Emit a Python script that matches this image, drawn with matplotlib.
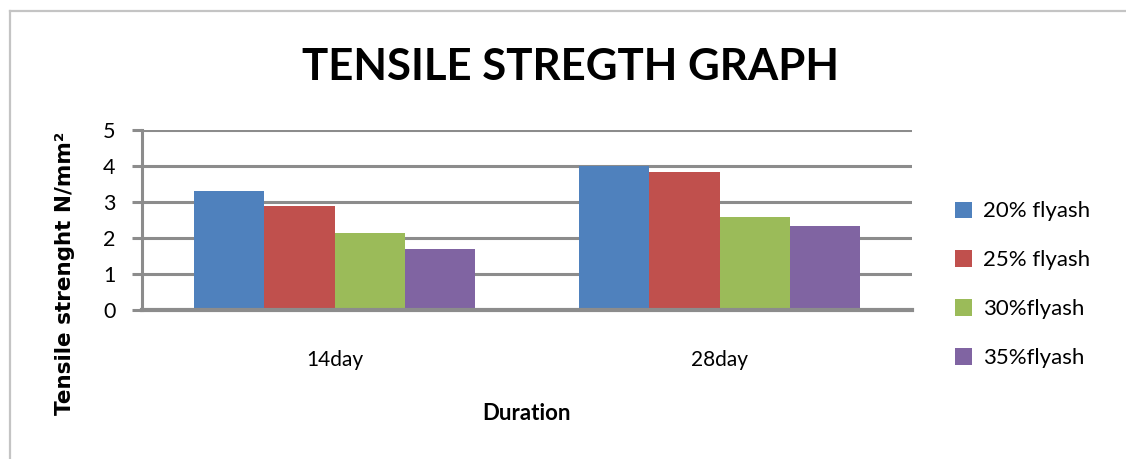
import matplotlib
matplotlib.use("Agg")
import matplotlib.pyplot as plt
import numpy as np
from matplotlib.lines import Line2D

durations = ["14day", "28day"]
series = ["20% flyash", "25% flyash", "30%flyash", "35%flyash"]
values_20 = [3.3, 4.0]
values_25 = [2.89, 3.82]
values_30 = [2.15, 2.57]
values_35 = [1.69, 2.33]
colors = ["#4F81BD", "#C0504D", "#9BBB59", "#8064A2"]
yticks = [0, 1, 2, 3, 4, 5]

grid_gray = "#8c8c8c"
font = "Lato"

fig = plt.figure(figsize=(11.26, 4.59), dpi=100)
# chart border: top and left edges only
fig.add_artist(Line2D([0.0085, 1.0], [0.977, 0.977], transform=fig.transFigure,
                      color="#c4c4c4", linewidth=1.6))
fig.add_artist(Line2D([0.0085, 0.0085], [0.0, 0.977], transform=fig.transFigure,
                      color="#c4c4c4", linewidth=1.6))

ax = fig.add_axes([0.1261, 0.3246, 0.8100 - 0.1261, 0.7168 - 0.3246])

x = np.arange(len(durations))
width = 0.182
all_vals = [values_20, values_25, values_30, values_35]
for i, (vals, col, name) in enumerate(zip(all_vals, colors, series)):
    ax.bar(x + (i - 1.5) * width, vals, width, color=col, label=name, zorder=3)

ax.set_xlim(-0.5, 1.5)
ax.set_ylim(0, 5)
ax.set_yticks(yticks)
ax.set_yticklabels([str(t) for t in yticks], fontsize=15.5, fontfamily=font)
ax.set_xticks(x)
ax.set_xticklabels(durations, fontsize=15, fontfamily=font)
ax.tick_params(axis="x", length=0, pad=29)
ax.tick_params(axis="y", length=7, width=2.2, color=grid_gray, pad=12)

ax.yaxis.grid(True, color=grid_gray, linewidth=2.2, zorder=0)
for s in ["top", "right"]:
    ax.spines[s].set_visible(False)
ax.spines["left"].set_color(grid_gray)
ax.spines["left"].set_linewidth(2.2)
ax.spines["bottom"].set_color(grid_gray)
ax.spines["bottom"].set_linewidth(3)
ax.spines["bottom"].set_zorder(4)

fig.text(0.507, 0.853, "TENSILE STREGTH GRAPH", ha="center", va="center",
         fontsize=31.5, fontweight="bold", fontfamily=font)
fig.text(0.058, 0.405, "Tensile strenght N/mm²", rotation=90, ha="center", va="center",
         fontsize=15.5, fontweight="bold", fontfamily="DejaVu Sans")
fig.text(0.468, 0.100, "Duration", ha="center", va="center",
         fontsize=16, fontweight="bold", fontfamily=font)

leg = ax.legend(loc="center left", bbox_to_anchor=(1.03, 0.14), frameon=False,
                prop={"family": font, "size": 16}, handlelength=0.75, handleheight=0.75,
                handletextpad=0.5, labelspacing=1.3)

fig.savefig("out.png", dpi=100)
